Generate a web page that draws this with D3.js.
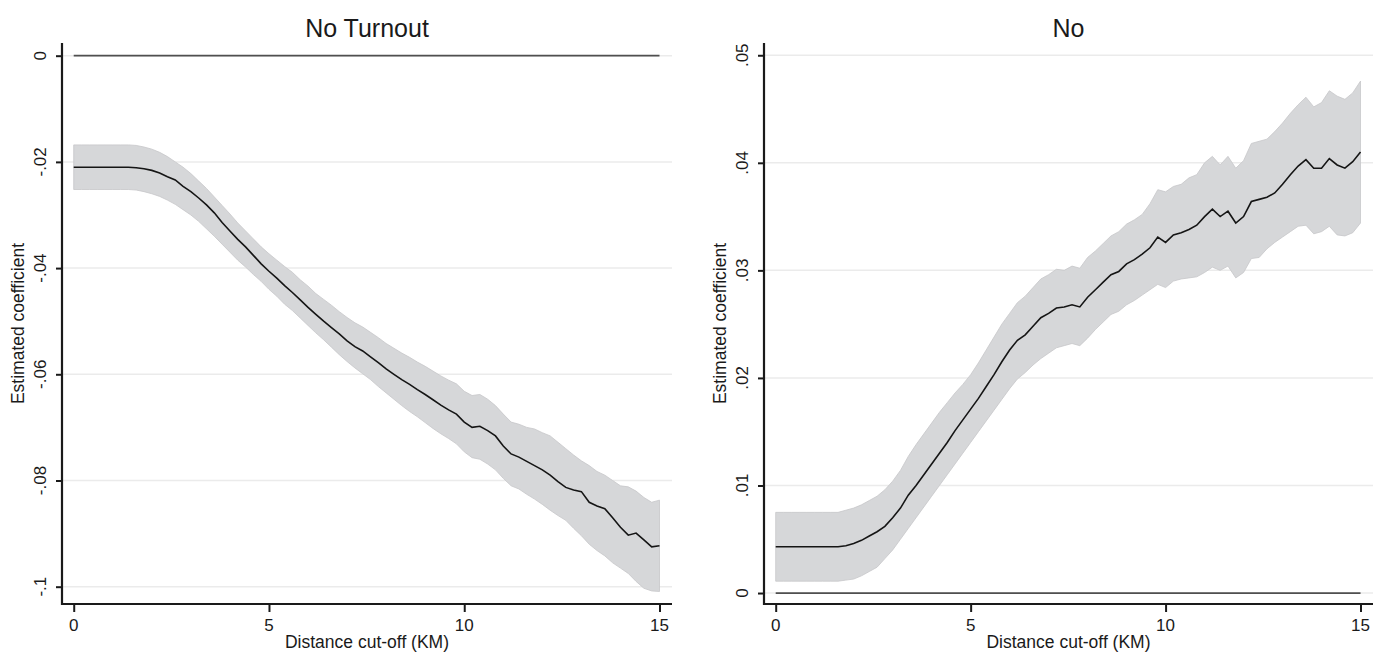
<!DOCTYPE html>
<html>
<head>
<meta charset="utf-8">
<script src="https://cdn.jsdelivr.net/npm/d3@7"></script>
<style>
  body { margin: 0; background: #fff; }
  text { font-family: "Liberation Sans", Arial, Helvetica, sans-serif; fill: #1a1a1a; }
</style>
</head>
<body>
<svg id="chart"></svg>
<script>
// distance cut-off (KM), shared by both panels
const distance = d3.range(0, 76).map(i => +(i * 0.2).toFixed(1));

// panel 1: No Turnout
const coefTurnout = [-0.0210,-0.0210,-0.0210,-0.0210,-0.0210,-0.0210,-0.0210,-0.0210,-0.0211,-0.0213,
  -0.0216,-0.0221,-0.0228,-0.0234,-0.0246,-0.0256,-0.0268,-0.0281,-0.0296,-0.0314,
  -0.0330,-0.0346,-0.0360,-0.0376,-0.0392,-0.0406,-0.0419,-0.0433,-0.0446,-0.0460,
  -0.0474,-0.0487,-0.0500,-0.0512,-0.0524,-0.0537,-0.0548,-0.0556,-0.0567,-0.0578,
  -0.0590,-0.0600,-0.0610,-0.0619,-0.0629,-0.0638,-0.0648,-0.0658,-0.0667,-0.0675,
  -0.0690,-0.0700,-0.0698,-0.0706,-0.0716,-0.0735,-0.0750,-0.0756,-0.0764,-0.0772,
  -0.0780,-0.0790,-0.0802,-0.0813,-0.0818,-0.0821,-0.0841,-0.0848,-0.0853,-0.0870,
  -0.0888,-0.0903,-0.0899,-0.0912,-0.0925,-0.0923];
const upperTurnout = [-0.0168,-0.0168,-0.0168,-0.0168,-0.0168,-0.0168,-0.0168,-0.0168,-0.0169,-0.0172,
  -0.0176,-0.0182,-0.0190,-0.0200,-0.0210,-0.0222,-0.0236,-0.0250,-0.0266,-0.0282,
  -0.0298,-0.0315,-0.0330,-0.0345,-0.0360,-0.0373,-0.0385,-0.0397,-0.0408,-0.0422,
  -0.0434,-0.0448,-0.0459,-0.0470,-0.0482,-0.0493,-0.0503,-0.0511,-0.0521,-0.0531,
  -0.0542,-0.0551,-0.0560,-0.0568,-0.0577,-0.0585,-0.0594,-0.0603,-0.0611,-0.0618,
  -0.0632,-0.0640,-0.0638,-0.0647,-0.0659,-0.0675,-0.0690,-0.0694,-0.0700,-0.0703,
  -0.0710,-0.0716,-0.0728,-0.0740,-0.0752,-0.0763,-0.0772,-0.0783,-0.0790,-0.0800,
  -0.0810,-0.0812,-0.0820,-0.0832,-0.0841,-0.0837];
const lowerTurnout = [-0.0252,-0.0252,-0.0252,-0.0252,-0.0252,-0.0252,-0.0252,-0.0252,-0.0253,-0.0256,
  -0.0260,-0.0265,-0.0272,-0.0280,-0.0290,-0.0300,-0.0312,-0.0326,-0.0340,-0.0355,
  -0.0370,-0.0385,-0.0398,-0.0412,-0.0425,-0.0440,-0.0453,-0.0468,-0.0480,-0.0494,
  -0.0508,-0.0522,-0.0535,-0.0549,-0.0563,-0.0576,-0.0588,-0.0599,-0.0610,-0.0623,
  -0.0635,-0.0647,-0.0659,-0.0670,-0.0680,-0.0691,-0.0702,-0.0712,-0.0721,-0.0731,
  -0.0746,-0.0757,-0.0760,-0.0769,-0.0780,-0.0796,-0.0810,-0.0816,-0.0826,-0.0835,
  -0.0845,-0.0856,-0.0866,-0.0875,-0.0890,-0.0904,-0.0920,-0.0932,-0.0942,-0.0955,
  -0.0965,-0.0975,-0.0990,-0.1003,-0.1008,-0.1009];

// panel 2: No
const coefNo = [0.0043,0.0043,0.0043,0.0043,0.0043,0.0043,0.0043,0.0043,0.0043,0.0044,
  0.0046,0.0049,0.0053,0.0057,0.0062,0.0070,0.0079,0.0091,0.0100,0.0110,
  0.0120,0.0130,0.0140,0.0151,0.0161,0.0171,0.0181,0.0192,0.0203,0.0215,
  0.0226,0.0235,0.0240,0.0248,0.0256,0.0260,0.0265,0.0266,0.0268,0.0266,
  0.0275,0.0282,0.0289,0.0296,0.0299,0.0306,0.0310,0.0315,0.0321,0.0331,
  0.0326,0.0333,0.0335,0.0338,0.0342,0.0350,0.0357,0.0350,0.0355,0.0344,
  0.0350,0.0364,0.0366,0.0368,0.0372,0.0380,0.0389,0.0397,0.0403,0.0395,
  0.0395,0.0404,0.0398,0.0395,0.0401,0.0410];
const upperNo = [0.0075,0.0075,0.0075,0.0075,0.0075,0.0075,0.0075,0.0075,0.0075,0.0077,
  0.0079,0.0082,0.0086,0.0090,0.0096,0.0104,0.0114,0.0127,0.0138,0.0148,
  0.0158,0.0168,0.0177,0.0186,0.0194,0.0203,0.0214,0.0226,0.0238,0.0250,
  0.0260,0.0270,0.0276,0.0284,0.0292,0.0296,0.0301,0.0300,0.0304,0.0302,
  0.0312,0.0318,0.0325,0.0332,0.0336,0.0343,0.0347,0.0352,0.0362,0.0375,
  0.0373,0.0378,0.0380,0.0386,0.0389,0.0400,0.0406,0.0398,0.0406,0.0395,
  0.0402,0.0418,0.0420,0.0422,0.0429,0.0437,0.0446,0.0454,0.0461,0.0452,
  0.0456,0.0467,0.0462,0.0459,0.0465,0.0476];
const lowerNo = [0.0011,0.0011,0.0011,0.0011,0.0011,0.0011,0.0011,0.0011,0.0011,0.0012,
  0.0013,0.0016,0.0020,0.0024,0.0032,0.0040,0.0050,0.0060,0.0070,0.0080,
  0.0090,0.0100,0.0110,0.0120,0.0130,0.0140,0.0150,0.0160,0.0170,0.0180,
  0.0190,0.0199,0.0205,0.0212,0.0218,0.0223,0.0228,0.0230,0.0232,0.0230,
  0.0237,0.0245,0.0252,0.0259,0.0262,0.0268,0.0272,0.0277,0.0282,0.0287,
  0.0284,0.0290,0.0292,0.0293,0.0294,0.0298,0.0303,0.0300,0.0304,0.0293,
  0.0298,0.0311,0.0312,0.0320,0.0326,0.0331,0.0336,0.0341,0.0342,0.0334,
  0.0336,0.0341,0.0333,0.0332,0.0335,0.0344];

const xTicks = [0, 5, 10, 15];
const yTicksTurnout = [0, -0.02, -0.04, -0.06, -0.08, -0.1];
const yTicksNo = [0, 0.01, 0.02, 0.03, 0.04, 0.05];

// stata style labels: drop leading zero
function stataFmt(v) {
  if (v === 0) return "0";
  let s = String(+v.toFixed(3));
  return s.replace("0.", ".");
}

const W = 1373, H = 654;
const svg = d3.select("#chart").attr("width", W).attr("height", H);

function drawPanel(o) {
  const left = o.left, right = o.right, top = 43, bottom = 604;

  let xScale = d3.scaleLinear().domain([-0.3, 15.32]).range([left, right]);
  let yScale = d3.scaleLinear().domain(o.yDomain).range([bottom, top]);

  const g = svg.append("g");

  // grid lines
  g.selectAll(".grid").data(o.yTicks).enter().append("line")
    .attr("x1", left).attr("x2", right)
    .attr("y1", d => yScale(d)).attr("y2", d => yScale(d))
    .attr("stroke", "#ebebeb").attr("stroke-width", 1.5);

  const rows = distance.map((d, i) => ({ x: d, c: o.coef[i], hi: o.upper[i], lo: o.lower[i] }));

  const area = d3.area()
    .x(d => xScale(d.x))
    .y0(d => yScale(d.lo))
    .y1(d => yScale(d.hi));
  g.append("path").datum(rows)
    .attr("d", area)
    .attr("fill", "#d6d7d9")
    .attr("stroke", "#c6c7c9")
    .attr("stroke-width", 0.8);

  // zero reference line
  g.append("line")
    .attr("x1", xScale(0)).attr("x2", xScale(15))
    .attr("y1", yScale(0)).attr("y2", yScale(0))
    .attr("stroke", "#4f4f4f").attr("stroke-width", 1.8);

  const line = d3.line().x(d => xScale(d.x)).y(d => yScale(d.c));
  g.append("path").datum(rows)
    .attr("d", line)
    .attr("fill", "none")
    .attr("stroke", "#151515")
    .attr("stroke-width", 1.6);

  // axes
  const yAxis = g.append("g")
    .attr("transform", `translate(${left},0)`)
    .call(d3.axisLeft(yScale).tickValues(o.yTicks).tickSize(6).tickFormat(""));
  const xAxis = g.append("g")
    .attr("transform", `translate(0,${bottom})`)
    .call(d3.axisBottom(xScale).tickValues(xTicks).tickSize(8).tickFormat(""));
  [yAxis, xAxis].forEach(a => {
    a.select(".domain").attr("stroke", "#1a1a1a").attr("stroke-width", 2.2);
    a.selectAll(".tick line").attr("stroke", "#1a1a1a").attr("stroke-width", 2);
  });
  // fix corners so axis lines meet
  yAxis.select(".domain").attr("d", `M0,${top}V${bottom + 1}`);
  xAxis.select(".domain").attr("d", `M${left - 1},0H${right}`);

  // y tick labels, rotated
  g.selectAll(".ylab").data(o.yTicks).enter().append("text")
    .attr("transform", d => `translate(${left - 22},${yScale(d)})rotate(-90)`)
    .attr("text-anchor", "middle")
    .attr("dominant-baseline", "central")
    .style("font-size", "17px")
    .text(stataFmt);

  g.selectAll(".xlab").data(xTicks).enter().append("text")
    .attr("x", d => xScale(d)).attr("y", 625)
    .attr("text-anchor", "middle")
    .attr("dominant-baseline", "central")
    .style("font-size", "17px")
    .text(d => d);

  g.append("text")
    .attr("x", (left + right) / 2).attr("y", 642)
    .attr("text-anchor", "middle")
    .attr("dominant-baseline", "central")
    .style("font-size", "17.5px")
    .text("Distance cut-off (KM)");

  g.append("text")
    .attr("transform", `translate(${left - 44},${(top + bottom) / 2})rotate(-90)`)
    .attr("text-anchor", "middle")
    .attr("dominant-baseline", "central")
    .style("font-size", "17.5px")
    .text("Estimated coefficient");

  g.append("text")
    .attr("x", (left + right) / 2).attr("y", 28)
    .attr("text-anchor", "middle")
    .attr("dominant-baseline", "central")
    .style("font-size", "25px")
    .text(o.title);
}

drawPanel({
  title: "No Turnout", left: 62, right: 672,
  yDomain: [-0.10326, 0.00239], yTicks: yTicksTurnout,
  coef: coefTurnout, upper: upperTurnout, lower: lowerTurnout
});
drawPanel({
  title: "No", left: 764, right: 1373,
  yDomain: [-0.00102, 0.05114], yTicks: yTicksNo,
  coef: coefNo, upper: upperNo, lower: lowerNo
});
</script>
</body>
</html>
